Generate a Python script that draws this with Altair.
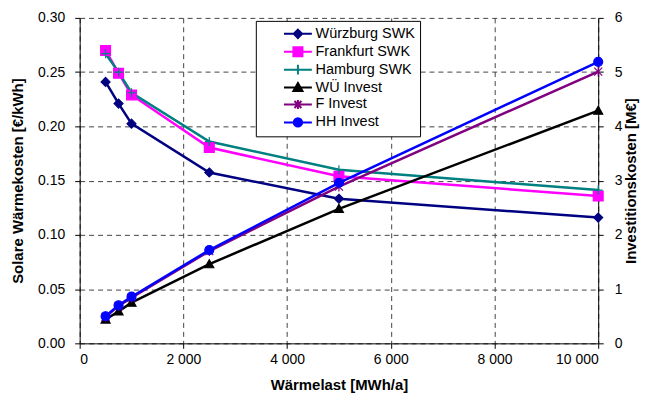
import altair as alt
import pandas as pd

# ---- data ----
load = [500, 750, 1000, 2500, 5000, 10000]
wue_swk = [0.241, 0.221, 0.2025, 0.1575, 0.1333, 0.1159]
f_swk = [0.270, 0.249, 0.229, 0.1805, 0.154, 0.1358]
hh_swk = [0.267, 0.250, 0.231, 0.186, 0.160, 0.1413]
wue_inv = [0.44, 0.59, 0.75, 1.46, 2.48, 4.29]
f_inv = [0.49, 0.69, 0.84, 1.70, 2.89, 5.01]
hh_inv = [0.50, 0.70, 0.86, 1.72, 2.96, 5.19]

series_names = ["Würzburg SWK", "Frankfurt SWK", "Hamburg SWK",
                "WÜ Invest", "F Invest", "HH Invest"]
series_colors = ["#000080", "#FF00FF", "#008080", "#000000", "#800080", "#0000FF"]

x_ticks = [0, 2000, 4000, 6000, 8000, 10000]
left_ticks = [0.0, 0.05, 0.10, 0.15, 0.20, 0.25, 0.30]
right_ticks = [0, 1, 2, 3, 4, 5, 6]

# marker shapes (chart) and legend symbols (line + marker)
marker_paths = [
    "M0,-1L1,0L0,1L-1,0Z",
    "M-1.1,-1.1H1.1V1.1H-1.1Z",
    "M-1,0H1M0,-1V1",
    "M0,-1L1,0.8H-1Z",
    "M-0.9,-0.9L0.9,0.9M-0.9,0.9L0.9,-0.9M0,-1.1V1.1",
    "circle",
]
legend_paths = [
    "M-0.1,0H3.9M1.9,-0.6L2.5,0L1.9,0.6L1.3,0Z",
    "M-0.1,0H3.9M1.25,-0.65H2.55V0.65H1.25Z",
    "M-0.1,0H3.9M1.9,-0.7V0.7",
    "M-0.1,0H3.9M1.9,-0.65L2.55,0.5H1.25Z",
    "M-0.1,0H3.9M1.4,-0.5L2.4,0.5M1.4,0.5L2.4,-0.5M1.9,-0.65V0.65",
    "M-0.1,0H3.9M2.5,0A0.6,0.6,0,1,1,1.3,0A0.6,0.6,0,1,1,2.5,0Z",
]

rows_swk = []
for name, vals in zip(series_names[:3], [wue_swk, f_swk, hh_swk]):
    for x, v in zip(load, vals):
        rows_swk.append({"series": name, "load": x, "value": v})
rows_inv = []
for name, vals in zip(series_names[3:], [wue_inv, f_inv, hh_inv]):
    for x, v in zip(load, vals):
        rows_inv.append({"series": name, "load": x, "value": v})
df_swk = pd.DataFrame(rows_swk)
df_inv = pd.DataFrame(rows_inv)

FONT = "Liberation Sans"
GRID = dict(gridDash=[5, 4], gridColor="#444444", gridWidth=1)

x_enc = alt.X(
    "load:Q",
    scale=alt.Scale(domain=[0, 10000], nice=False),
    axis=alt.Axis(values=x_ticks, title="Wärmelast [MWh/a]",
                  labelExpr="replace(format(datum.value, ','), ',', ' ')",
                  grid=True, tickSize=5, labelPadding=4, titlePadding=11,
                  **GRID),
)


def color_scale():
    return alt.Scale(domain=series_names, range=series_colors)


# ---- left axis group ----
left_y = alt.Y(
    "value:Q",
    scale=alt.Scale(domain=[0, 0.3], nice=False),
    axis=alt.Axis(values=left_ticks, format=".2f", orient="left",
                  title="Solare Wärmekosten [€/kWh]", grid=True,
                  tickSize=5, labelPadding=10, titlePadding=12, **GRID),
)
left_base = alt.Chart(df_swk).encode(x=x_enc, y=left_y)
left_lines = left_base.mark_line(strokeWidth=2.5).encode(
    stroke=alt.Stroke("series:N", scale=color_scale(), legend=None),
    detail="series:N",
)
left_pts = left_base.mark_point(filled=True, size=81, opacity=1, strokeWidth=1.2).encode(
    fill=alt.Fill("series:N", scale=color_scale(), legend=None),
    stroke=alt.Stroke("series:N", scale=color_scale(), legend=None),
    shape=alt.Shape("series:N", scale=alt.Scale(domain=series_names, range=marker_paths), legend=None),
)
left_group = alt.layer(left_lines, left_pts)

# ---- right axis group ----
right_y = alt.Y(
    "value:Q",
    scale=alt.Scale(domain=[0, 6], nice=False),
    axis=alt.Axis(values=right_ticks, format="d", orient="right",
                  title="Investitionskosten [M€]", titleAngle=270,
                  titleBaseline="top",
                  grid=False, tickSize=5, labelPadding=11, titlePadding=2),
)
right_base = alt.Chart(df_inv).encode(x=x_enc, y=right_y)
right_lines = right_base.mark_line(strokeWidth=2.5).encode(
    stroke=alt.Stroke("series:N", scale=color_scale(), legend=None),
    detail="series:N",
)
right_pts = right_base.mark_point(filled=True, size=81, opacity=1, strokeWidth=1.2).encode(
    fill=alt.Fill("series:N", scale=color_scale(), legend=None),
    stroke=alt.Stroke("series:N", scale=color_scale(), legend=None),
    shape=alt.Shape("series:N", scale=alt.Scale(domain=series_names, range=marker_paths), legend=None),
)
right_group = alt.layer(right_lines, right_pts)

# ---- legend-only layer (no data drawn) ----
legend_def = dict(
    title=None, orient="none", legendX=177, legendY=3,
    strokeColor="black", fillColor="white", padding=5,
    symbolOffset=16, labelOffset=23, rowPadding=0,
    labelFont=FONT, labelFontSize=14.5, labelColor="black",
    symbolSize=196, symbolStrokeWidth=2,
)
legend_layer = alt.Chart(df_swk).transform_filter("false").mark_point(
    filled=True, size=196, opacity=1, strokeWidth=2
).encode(
    fill=alt.Fill("series:N", scale=color_scale(), legend=alt.Legend(**legend_def)),
    stroke=alt.Stroke("series:N", scale=color_scale(), legend=alt.Legend(**legend_def)),
    shape=alt.Shape("series:N", scale=alt.Scale(domain=series_names, range=legend_paths),
                    legend=alt.Legend(**legend_def)),
)

chart = alt.layer(left_group, right_group, legend_layer).resolve_scale(
    y="independent", fill="independent", stroke="independent", shape="independent"
).properties(
    width=521, height=327,
    autosize=alt.AutoSizeParams(type="none"),
    padding={"left": 72, "top": 9, "right": 44, "bottom": 56},
    background="white",
).configure_view(strokeWidth=0).configure_axis(
    labelFont=FONT, labelFontSize=14, labelColor="black",
    titleFont=FONT, titleFontSize=15, titleFontWeight="bold", titleColor="black",
    domainColor="black", domainWidth=1, tickColor="black", tickWidth=1,
)

chart.save("out.html", embed_options={"renderer": "svg", "actions": False})
